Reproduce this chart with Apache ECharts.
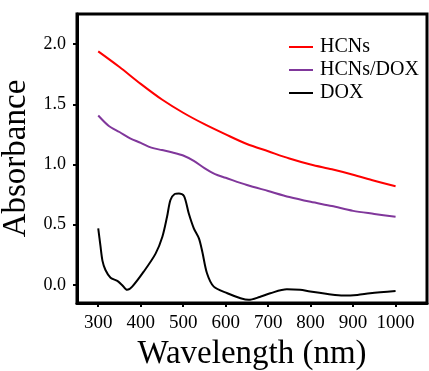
<!DOCTYPE html>
<html>
<head>
<meta charset="utf-8">
<script src="https://cdn.jsdelivr.net/npm/echarts@6/dist/echarts.min.js"></script>
<style>html,body{margin:0;padding:0;background:#fff}#c{width:429px;height:371px}</style>
</head>
<body>
<div id="c"></div>
<script>
var seriesNames = ['HCNs', 'HCNs/DOX', 'DOX'];
var xTicks = [300, 400, 500, 600, 700, 800, 900, 1000];
var yTicks = [0, 0.5, 1.0, 1.5, 2.0];

var hcnsX = [300, 350, 400, 450, 500, 550, 600, 650, 700, 750, 800, 850, 900, 950, 1000];
var hcnsY = [1.94, 1.81, 1.67, 1.54, 1.43, 1.335, 1.25, 1.17, 1.11, 1.05, 1.0, 0.96, 0.915, 0.865, 0.82];

var hdX = [300, 325, 350, 375, 400, 425, 450, 475, 500, 525, 550, 575, 600, 650, 700, 750, 800, 850, 900, 950, 1000];
var hdY = [1.407, 1.32, 1.27, 1.218, 1.18, 1.14, 1.12, 1.10, 1.075, 1.03, 0.97, 0.92, 0.89, 0.83, 0.78, 0.73, 0.69, 0.655, 0.615, 0.59, 0.566];

var doxX = [300, 305, 310, 317, 329, 345, 356, 368, 380, 407, 435, 451, 462, 470, 480, 490, 502, 513, 525, 537, 545, 556, 572, 604, 635, 654, 680, 705, 744, 775, 799, 840, 877, 910, 940, 1000];
var doxY = [0.47, 0.33, 0.2, 0.124, 0.06, 0.033, 0.0, -0.041, -0.014, 0.11, 0.26, 0.40, 0.566, 0.705, 0.755, 0.76, 0.738, 0.595, 0.47, 0.387, 0.276, 0.097, -0.014, -0.069, -0.11, -0.124, -0.10, -0.069, -0.036, -0.04, -0.055, -0.075, -0.088, -0.083, -0.069, -0.05];

function pairs(xs, ys) { return xs.map(function (x, i) { return [x, ys[i]]; }); }

var FONT = 'Liberation Serif';
var chart = echarts.init(document.getElementById('c'), null, { renderer: 'canvas' });
chart.setOption({
  animation: false,
  backgroundColor: '#fff',
  grid: { left: 77, top: 14, right: 2, bottom: 68, show: true, borderColor: '#000', borderWidth: 3,
    containLabel: false, outerBoundsMode: 'none' },
  legend: {
    orient: 'vertical', left: 284, top: 32, itemWidth: 24, itemHeight: 2, itemGap: 3,
    icon: 'rect',
    textStyle: { fontFamily: FONT, fontSize: 20, color: '#000', lineHeight: 20, padding: [0, 0, 0, 2] },
    data: seriesNames
  },
  xAxis: {
    type: 'value', min: 250, max: 1074,
    splitLine: { show: false },
    axisLine: { onZero: false, lineStyle: { color: '#000', width: 3 } },
    axisTick: { show: true, length: 4, lineStyle: { color: '#000', width: 2 }, customValues: xTicks },
    axisLabel: { color: '#000', fontFamily: FONT, fontSize: 19, margin: 11, customValues: xTicks,
      formatter: function (v) { return String(v); } },
    name: 'Wavelength (nm)', nameLocation: 'middle', nameGap: 28,
    nameTextStyle: { fontFamily: FONT, fontSize: 33, color: '#000' }
  },
  yAxis: {
    type: 'value', min: -0.15, max: 2.25,
    splitLine: { show: false },
    axisLine: { onZero: false, lineStyle: { color: '#000', width: 3 } },
    axisTick: { show: true, length: 4, lineStyle: { color: '#000', width: 2 }, customValues: yTicks },
    axisLabel: { color: '#000', fontFamily: FONT, fontSize: 18, margin: 11, customValues: yTicks,
      formatter: function (v) { return v.toFixed(1); } },
    name: 'Absorbance', nameLocation: 'middle', nameGap: 33, nameRotate: 90,
    nameTextStyle: { fontFamily: FONT, fontSize: 33, color: '#000' }
  },
  series: [
    { name: seriesNames[0], type: 'line', data: pairs(hcnsX, hcnsY), smooth: 0.3, showSymbol: false,
      color: '#ff0000', lineStyle: { color: '#ff0000', width: 2 } },
    { name: seriesNames[1], type: 'line', data: pairs(hdX, hdY), smooth: 0.3, showSymbol: false,
      color: '#80379b', lineStyle: { color: '#80379b', width: 2 } },
    { name: seriesNames[2], type: 'line', data: pairs(doxX, doxY), smooth: 0.3, showSymbol: false,
      color: '#000000', lineStyle: { color: '#000000', width: 2 } }
  ]
});
</script>
</body>
</html>
